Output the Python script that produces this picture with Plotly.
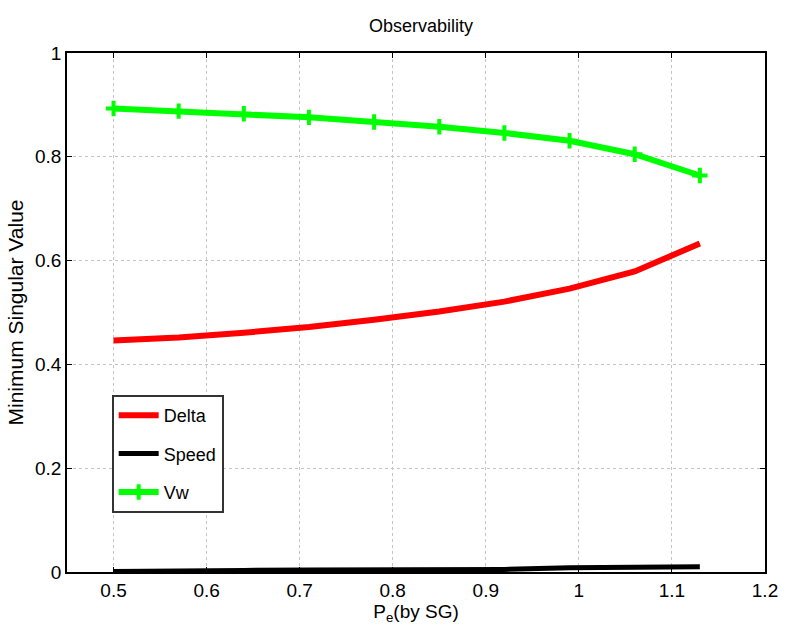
import plotly.graph_objects as go

pe = [0.5, 0.57, 0.64, 0.71, 0.78, 0.85, 0.92, 0.99, 1.06, 1.13]
delta = [0.446, 0.452, 0.461, 0.472, 0.486, 0.502, 0.521, 0.546, 0.579, 0.633]
speed = [0.001, 0.003, 0.003, 0.004, 0.004, 0.005, 0.005, 0.008, 0.009, 0.010]
vw = [0.893, 0.888, 0.883, 0.876, 0.867, 0.858, 0.846, 0.831, 0.805, 0.764]

x_ticks = [0.5, 0.6, 0.7, 0.8, 0.9, 1.0, 1.1, 1.2]
x_ticklabels = ["0.5", "0.6", "0.7", "0.8", "0.9", "1", "1.1", "1.2"]
y_ticks = [0, 0.2, 0.4, 0.6, 0.8, 1]
y_ticklabels = ["0", "0.2", "0.4", "0.6", "0.8", "1"]

FONT = "Liberation Sans, Arial, sans-serif"

fig = go.Figure()
fig.add_trace(go.Scatter(x=pe, y=delta, mode="lines", name="Delta", legendgroup="a",
                         line=dict(color="#ff0000", width=6)))
fig.add_trace(go.Scatter(x=pe, y=speed, mode="lines", name="Speed", legendgroup="b",
                         line=dict(color="#000000", width=5)))
fig.add_trace(go.Scatter(x=pe, y=vw, mode="lines+markers", name="Vw", legendgroup="c",
                         line=dict(color="#00ff00", width=6),
                         marker=dict(symbol="cross-thin", size=11, color="#00ff00",
                                     line=dict(color="#00ff00", width=4))))

axis_common = dict(
    showline=True, linecolor="#000000", linewidth=1.5, mirror="ticks",
    ticks="inside", ticklen=5, tickcolor="#000000", tickwidth=1.2,
    showgrid=True, gridcolor="#c4c4c4", griddash="dot", gridwidth=1,
    zeroline=False, tickfont=dict(family=FONT, size=19, color="#000000"),
)

fig.update_layout(
    width=790, height=642,
    margin=dict(l=67, r=15, t=53, b=70),
    paper_bgcolor="white", plot_bgcolor="white",
    title=dict(text="Observability", x=(67 + 775) / 2 / 790, xanchor="center",
               y=1 - 26 / 642, yanchor="middle",
               font=dict(family=FONT, size=18, color="#000000")),
    xaxis=dict(range=[0.45, 1.2], tickvals=x_ticks, ticktext=x_ticklabels,
               title=dict(text="P<sub>e</sub>(by SG)", standoff=4,
                          font=dict(family=FONT, size=19, color="#000000")),
               **axis_common),
    yaxis=dict(range=[0, 1], tickvals=y_ticks, ticktext=y_ticklabels,
               title=dict(text="Minimum Singular Value", standoff=6,
                          font=dict(family=FONT, size=21, color="#000000")),
               **axis_common),
    legend=dict(x=0.064, y=0.341, xanchor="left", yanchor="top",
                bgcolor="white", bordercolor="#333333", borderwidth=2,
                font=dict(family=FONT, size=18, color="#000000"),
                tracegroupgap=12, itemwidth=40),
    showlegend=True,
)

fig.write_html("out.html")
